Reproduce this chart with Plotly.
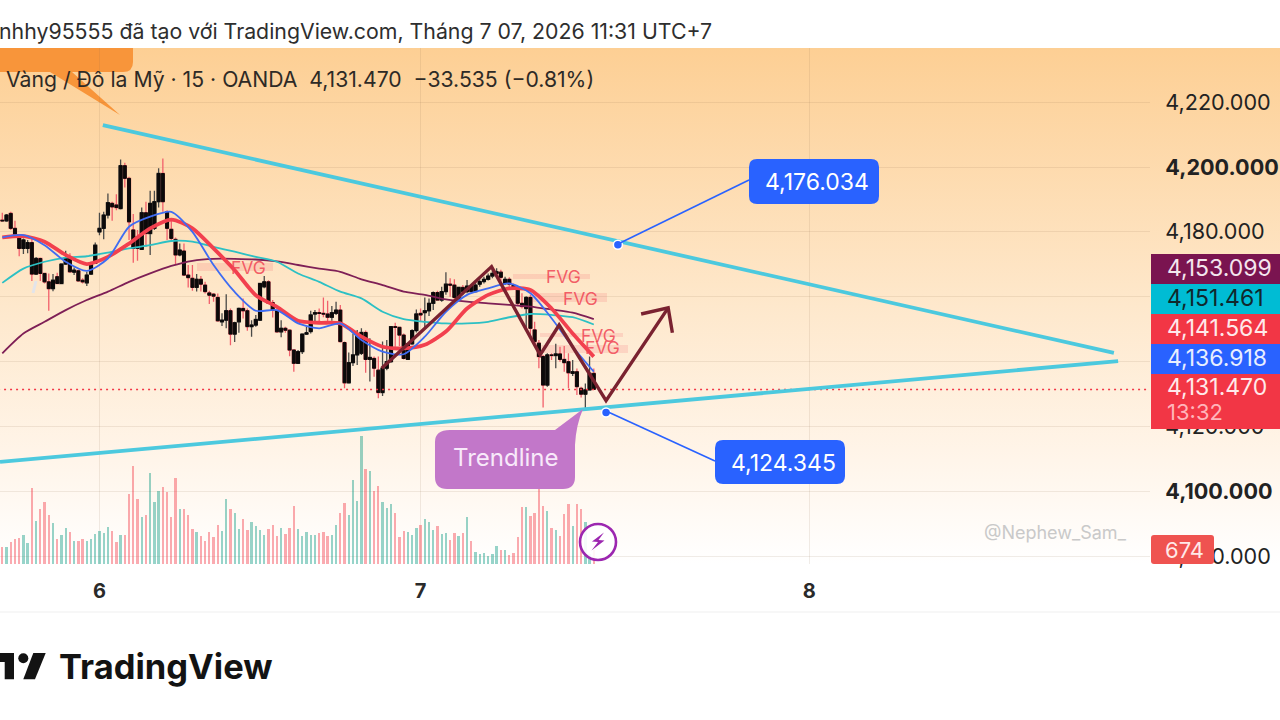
import base64
import plotly.graph_objects as go

# ---------------- DATA ----------------
bar_index = list(range(141))
ohlc_open = [4183.6,4183.4,4185.7,4181.1,4178.3,4174.9,4174.9,4176.7,4167.0,4171.8,4167.2,4164.6,4162.5,4166.2,4164.1,4170.1,4172.3,4167.6,4168.0,4165.1,
 4164.3,4167.0,4170.3,4180.0,4181.1,4185.2,4188.8,4188.3,4187.2,4200.4,4196.5,4180.6,4178.5,4174.6,4185.9,4179.5,4181.1,4189.3,4198.0,4186.2,
 4180.8,4177.7,4172.9,4174.1,4166.7,4165.7,4162.9,4165.4,4163.6,4161.2,4160.8,4159.8,4152.3,4152.8,4155.7,4148.5,4152.3,4156.4,4155.7,4150.8,
 4151.3,4152.8,4163.1,4164.6,4158.2,4155.7,4149.2,4150.3,4149.7,4143.6,4139.5,4143.1,4148.5,4149.3,4154.7,4155.1,4154.9,4154.7,4153.7,4154.9,
 4155.9,4145.9,4133.5,4139.7,4142.1,4142.6,4149.0,4140.7,4141.0,4137.4,4130.5,4138.0,4140.0,4150.8,4150.6,4148.2,4140.7,4145.5,4149.6,4154.9,
 4155.1,4155.7,4158.0,4161.3,4159.0,4161.6,4163.9,4163.6,4159.4,4162.9,4161.6,4163.3,4161.6,4163.9,4164.7,4165.4,4166.4,4167.2,4167.6,4164.1,
 4165.4,4163.6,4162.3,4158.0,4156.4,4159.8,4149.8,4145.7,4141.6,4132.8,4142.1,4141.9,4142.4,4140.7,4140.0,4136.4,4136.9,4131.8,4130.0,4131.3,4136.4]
ohlc_high = [4185.9,4185.5,4186.2,4183.4,4179.0,4178.0,4177.5,4178.7,4172.3,4172.1,4167.4,4167.2,4167.0,4167.4,4170.3,4174.2,4173.4,4169.0,4168.4,4165.7,
 4167.7,4170.8,4176.7,4185.9,4186.2,4191.8,4189.3,4191.6,4202.3,4201.3,4197.0,4185.5,4180.6,4187.5,4189.3,4192.7,4192.7,4199.6,4202.6,4186.7,
 4183.6,4178.3,4176.4,4176.4,4169.8,4169.8,4167.0,4166.4,4164.6,4161.9,4161.2,4161.0,4154.9,4160.8,4156.4,4152.3,4156.7,4159.5,4156.4,4152.8,
 4154.4,4164.1,4166.4,4165.1,4159.0,4156.1,4152.8,4150.8,4150.0,4143.8,4143.6,4148.7,4150.8,4155.7,4155.9,4156.4,4159.8,4158.8,4157.2,4158.5,
 4157.5,4146.2,4142.8,4148.7,4149.8,4150.3,4149.6,4147.2,4141.6,4141.6,4146.2,4146.7,4151.0,4152.0,4150.8,4148.7,4145.7,4150.0,4156.1,4156.4,
 4159.8,4159.5,4161.6,4161.9,4163.1,4167.6,4165.7,4165.4,4163.1,4163.6,4165.2,4163.9,4165.0,4165.4,4166.2,4167.2,4168.8,4168.8,4168.3,4166.2,
 4166.0,4164.1,4163.1,4161.1,4160.2,4160.6,4152.3,4146.7,4142.1,4142.6,4142.6,4145.5,4144.6,4144.8,4142.6,4140.5,4137.9,4132.3,4133.3,4141.6,4137.9]
ohlc_low = [4183.2,4183.1,4180.6,4178.3,4172.5,4173.2,4173.4,4164.9,4166.7,4164.9,4164.1,4155.7,4161.7,4163.9,4163.9,4169.8,4167.4,4166.7,4164.6,4164.1,
 4163.3,4166.7,4170.1,4179.0,4177.7,4184.1,4183.4,4186.7,4186.9,4193.7,4177.5,4170.5,4171.1,4174.4,4175.4,4172.9,4180.6,4187.5,4186.2,4177.5,
 4177.3,4169.8,4172.5,4166.4,4162.9,4161.9,4161.6,4161.6,4161.0,4157.8,4158.5,4152.3,4151.0,4150.3,4145.1,4146.1,4148.9,4153.3,4149.5,4147.7,
 4150.8,4152.6,4162.6,4157.8,4153.6,4148.9,4147.5,4148.9,4141.7,4136.9,4139.3,4142.4,4148.2,4148.7,4151.8,4152.0,4153.7,4152.3,4152.6,4154.4,
 4145.9,4131.8,4133.3,4138.7,4139.0,4142.1,4136.6,4133.9,4135.4,4128.7,4129.4,4137.4,4139.7,4144.6,4144.8,4140.7,4140.5,4145.2,4149.0,4152.3,
 4150.6,4154.1,4155.9,4158.8,4158.5,4160.6,4160.0,4159.0,4159.0,4160.6,4161.1,4161.1,4161.3,4163.1,4164.1,4165.0,4165.7,4166.0,4164.7,4163.6,
 4163.1,4162.1,4157.5,4156.4,4149.8,4147.7,4145.7,4138.0,4125.9,4132.3,4140.5,4138.0,4140.0,4136.9,4131.8,4135.6,4129.7,4129.0,4124.9,4131.1,4131.4]
ohlc_close = [4183.4,4185.2,4181.1,4178.3,4174.9,4177.5,4176.7,4167.0,4171.8,4167.2,4164.6,4162.5,4165.1,4164.1,4170.1,4172.1,4167.7,4168.2,4164.9,4164.6,
 4166.7,4170.5,4175.9,4181.1,4185.2,4189.0,4187.7,4187.5,4200.4,4196.5,4183.1,4174.9,4174.9,4185.9,4179.5,4188.8,4189.3,4198.0,4189.3,4181.1,
 4178.0,4172.9,4174.4,4166.7,4165.9,4162.9,4165.4,4163.9,4161.6,4160.5,4160.2,4152.6,4152.8,4155.7,4148.5,4152.0,4156.4,4155.7,4150.8,4151.3,
 4153.0,4164.1,4164.6,4158.0,4155.9,4149.2,4150.3,4149.7,4143.6,4139.5,4143.1,4148.5,4148.9,4154.4,4155.1,4154.9,4154.7,4153.7,4155.1,4155.9,
 4146.2,4133.5,4139.7,4142.1,4148.2,4149.0,4140.7,4141.3,4138.0,4130.5,4138.0,4140.0,4150.8,4150.6,4148.2,4141.0,4145.5,4149.6,4154.7,4154.4,
 4155.7,4158.0,4161.3,4159.0,4161.6,4163.9,4163.6,4159.8,4162.9,4161.6,4163.3,4161.6,4163.6,4164.7,4165.4,4166.4,4167.2,4167.7,4166.0,4165.4,
 4163.9,4162.6,4158.0,4157.0,4159.8,4150.3,4146.2,4141.6,4132.8,4142.1,4141.9,4142.4,4140.7,4139.7,4136.6,4136.9,4132.3,4130.0,4131.3,4136.4,4131.47]
volume = [832,800,1072,1216,1264,1376,1024,3632,2048,2624,2976,2368,1952,1200,1376,1744,1520,1104,1120,1184,
 1088,1184,1440,1600,1472,1792,1600,1072,1376,1376,3360,4704,3104,2240,2336,4352,2976,3520,3712,3456,
 2240,4144,2624,2624,2352,1696,1520,1344,1120,1536,1280,1888,1600,3120,2624,2464,1664,2160,1632,2000,
 1824,1632,1376,1664,1872,1344,1744,1440,1744,2784,1680,1344,1536,1408,1408,1472,1536,1344,1408,1888,
 2448,2928,2368,4032,3008,6160,4560,4480,3488,3728,2976,2688,2880,2448,1280,1600,1536,1376,1712,1856,
 2144,2016,1632,1824,1456,1472,1152,1504,1344,1504,2240,1088,592,480,544,368,480,864,672,672,
 432,528,1312,2720,2720,2288,2432,3952,2800,2528,1712,1632,1344,2400,2880,1840,2880,2640,2016,480,674]

ma_index = list(range(0, 141, 5))
ma_red = [4178.3,4178.7,4177.0,4172.9,4170.1,4172.3,4176.4,4181.1,4183.8,4181.1,4174.9,4168.2,4160.5,4156.9,4152.6,4152.0,
          4151.8,4147.7,4144.6,4144.1,4145.2,4149.3,4156.4,4160.6,4162.6,4162.1,4156.4,4148.7,4141.564]
ma_blue = [4178.3,4179.0,4175.9,4170.8,4168.0,4171.8,4181.6,4184.7,4186.2,4180.0,4169.8,4161.5,4155.7,4155.9,4151.8,4150.3,
           4151.8,4146.7,4143.1,4142.3,4147.7,4155.4,4160.6,4162.6,4164.1,4161.1,4153.4,4144.6,4136.918]
ma_teal = [4164.3,4168.7,4170.8,4172.1,4172.5,4173.6,4174.9,4175.9,4177.2,4177.0,4175.4,4173.9,4172.3,4170.8,4167.2,4164.6,
           4161.6,4159.5,4155.4,4153.1,4152.3,4151.8,4151.8,4152.3,4153.7,4154.7,4154.4,4153.7,4151.461]
ma_maroon = [4142.6,4148.7,4152.3,4155.9,4159.0,4161.6,4164.6,4167.2,4169.5,4171.1,4171.7,4171.7,4171.5,4170.9,4169.8,4168.7,
             4167.7,4165.4,4163.6,4161.6,4160.6,4159.2,4158.5,4158.0,4157.5,4157.0,4156.1,4155.1,4153.099]

upper_trend_x, upper_trend_y = [23.8, 263.1], [4212.9, 4142.7]
lower_trend_x, lower_trend_y = [-0.54, 264.1], [4109.1, 4140.2]
zigzag_x = [89.8, 115.8, 127.3, 131.8, 142.9, 157.6]
zigzag_y = [4138.0, 4169.3, 4142.1, 4151.3, 4128.0, 4156.6]
head_x = [151.2, 157.6, 158.6]
head_y = [4154.7, 4156.6, 4148.9]
target_x = [145.7, 142.9]
target_y = [4176.034, 4124.345]

price_ticks = [4080, 4100, 4120, 4140, 4160, 4180, 4200, 4220]
# 4,140 and 4,160 sit wholly behind the price tags in the reference, so only their grid lines show
price_tick_text = ["4,080.000", "<b>4,100.000</b>", "4,120.000", "", "", "4,180.000", "<b>4,200.000</b>", "4,220.000"]
time_ticks = [23, 99, 191]
time_tick_text = ["<b>6</b>", "<b>7</b>", "<b>8</b>"]

# ---------------- GEOMETRY ----------------
W, H = 1280, 720
L, R, T, B = 0, 1150, 48, 564
PLOT_W, PLOT_H = R - L, B - T
def xp(px): return (px - L) / PLOT_W
def yp(py): return (B - py) / PLOT_H
def pt(px, py): return f"{xp(px):.5f},{yp(py):.5f}"
def idx_of(px): return (px - 2.3) / 4.225
def price_of(py): return 4200 - (py - 167) / 3.245
def rrect(x0, y0, x1, y1, r):
    return (f"M{pt(x0+r,y0)} L{pt(x1-r,y0)} Q{pt(x1,y0)} {pt(x1,y0+r)} L{pt(x1,y1-r)} Q{pt(x1,y1)} {pt(x1-r,y1)} "
            f"L{pt(x0+r,y1)} Q{pt(x0,y1)} {pt(x0,y1-r)} L{pt(x0,y0+r)} Q{pt(x0,y0)} {pt(x0+r,y0)} Z")

FONT = "Inter, Roboto, sans-serif"
RED, BLUE, TEAL, MAROON, CYAN = "#F23645", "#2962FF", "#00BCD4", "#7A1450", "#4CC9DE"

fig = go.Figure()

# volume
vol_colors = ["rgba(8,153,129,0.42)" if c >= o else "rgba(242,54,69,0.42)" for o, c in zip(ohlc_open, ohlc_close)]
fig.add_trace(go.Bar(x=bar_index, y=volume, marker=dict(color=vol_colors, line_width=0), width=0.55, yaxis="y2"))

# wicks, then black bodies on top
fig.add_trace(go.Candlestick(x=bar_index, open=ohlc_open, high=ohlc_high, low=ohlc_low, close=ohlc_close, whiskerwidth=0,
    increasing=dict(line=dict(color="#4A4A48", width=1.3), fillcolor="#4A4A48"),
    decreasing=dict(line=dict(color="#F2606C", width=1.3), fillcolor="#F2606C")))
body_hi = [max(o, c) for o, c in zip(ohlc_open, ohlc_close)]
body_lo = [min(o, c) for o, c in zip(ohlc_open, ohlc_close)]
fig.add_trace(go.Candlestick(x=bar_index, open=ohlc_open, high=body_hi, low=body_lo, close=ohlc_close, whiskerwidth=0,
    increasing=dict(line=dict(color="#0C0A0A", width=1), fillcolor="#0C0A0A"),
    decreasing=dict(line=dict(color="#0C0A0A", width=1), fillcolor="#0C0A0A")))

# moving averages
for vals, col, w in [(ma_maroon, "#7E1F56", 1.8), (ma_teal, "#2CC0C4", 1.8), (ma_red, "#F2404E", 3.8), (ma_blue, "#3F6CF2", 1.8)]:
    fig.add_trace(go.Scatter(x=ma_index, y=vals, mode="lines", line=dict(color=col, width=w, shape="spline", smoothing=0.7)))

# last price
fig.add_trace(go.Scatter(x=[bar_index[-1] - 141, idx_of(R)], y=[ohlc_close[-1]] * 2, mode="lines",
                         line=dict(color=RED, width=1.5, dash="2px,4px")))

# drawings
for xs, ys in [(upper_trend_x, upper_trend_y), (lower_trend_x, lower_trend_y)]:
    fig.add_trace(go.Scatter(x=xs, y=ys, mode="lines", line=dict(color=CYAN, width=3.8)))
fig.add_trace(go.Scatter(x=zigzag_x, y=zigzag_y, mode="lines", line=dict(color="#7A2230", width=3.4)))
fig.add_trace(go.Scatter(x=head_x, y=head_y, mode="lines", line=dict(color="#7A2230", width=3.4)))

shapes, annotations = [], []

def text(px, py, s, size, color, anchor="center", **kw):
    annotations.append(dict(x=xp(px), y=yp(py), xref="paper", yref="paper", text=s, showarrow=False, xanchor=anchor,
                            yanchor="middle", font=dict(family=FONT, size=size, color=color), borderpad=0, **kw))

def path(d, fill=None, line=None, width=0, layer="above"):
    shapes.append(dict(type="path", path=d, xref="paper", yref="paper", fillcolor=fill or "rgba(0,0,0,0)",
                       line=dict(color=line or "rgba(0,0,0,0)", width=width), layer=layer))

def rect(x0, y0, x1, y1, fill, layer="above"):
    shapes.append(dict(type="rect", x0=xp(x0), x1=xp(x1), y0=yp(y1), y1=yp(y0), xref="paper", yref="paper",
                       fillcolor=fill, line_width=0, layer=layer))

# FVG bands and texts
for x0, y0, x1, y1 in [(197, 263, 273, 271), (513, 274, 590, 279), (533, 293, 607, 302), (540, 333, 623, 337), (540, 345, 628, 353)]:
    rect(x0, y0, x1, y1, "rgba(242,90,100,0.16)", layer="below")
for px, py in [(248, 267), (563, 276), (580, 298), (598, 335), (602, 348)]:
    text(px, py, "FVG", 17.5, "rgba(240,70,85,0.85)")

# connectors and blue boxes
path(f"M{pt(618, 244)} L{pt(749, 180)}", line=BLUE, width=1.6)
path(f"M{pt(606, 411)} L{pt(715, 461)}", line=BLUE, width=1.6)
path(rrect(749, 159, 879, 204, 8), fill=BLUE)
path(rrect(715, 440, 845, 484, 8), fill=BLUE)
text(817, 182, "4,176.034", 23, "#FFFFFF")
text(783, 463, "4,124.345", 23, "#FFFFFF")

fig.add_trace(go.Scatter(x=target_x, y=target_y, mode="markers",
                         marker=dict(color=BLUE, size=9, line=dict(color="#FFFFFF", width=1.5))))

# orange callout, clipped by the top band
path(f"M{pt(0,48)} L{pt(133,48)} L{pt(133,62)} Q{pt(133,72)} {pt(123,72)} L{pt(72,72)} L{pt(120,115)} L{pt(50,72)} L{pt(0,72)} Z", fill="#F8953A", layer="below")

# trendline callout
path(f"M{pt(450,430)} L{pt(555,430)} L{pt(583,409)} Q{pt(576,425)} {pt(575,445)} L{pt(575,477)} Q{pt(575,489)} {pt(563,489)} "
     f"L{pt(447,489)} Q{pt(435,489)} {pt(435,477)} L{pt(435,442)} Q{pt(435,430)} {pt(450,430)} Z", fill="#C277C9")
text(505, 457, "Trendline", 24, "#F8E9FA")

# right-hand price labels
label_rows = [(254, 284, MAROON, "4,153.099", "#F4E6EE"), (284, 314, TEAL, "4,151.461", "#10282C"),
              (314, 344, RED, "4,141.564", "#FFE9EA"), (344, 374, BLUE, "4,136.918", "#E8EEFF")]
for y0, y1, col, s, tc in label_rows:
    rect(1151, y0, 1280, y1, col)
    text(1166, (y0 + y1) / 2 - 1, s, 23, tc, anchor="left")
rect(1151, 374, 1280, 429, RED)
text(1166, 387, "4,131.470", 23, "#FFE9EA", anchor="left")
text(1166, 412, "13:32", 22, "#FFB4BA", anchor="left")
path(rrect(1151, 535, 1214, 564, 3), fill="#EF5350")
text(1184.5, 550, "674", 22, "#FFE9E8")

# cursor smear, icon
path(f"M{pt(36,281)} L{pt(33,293)}", line="#E2E4EA", width=3, layer="below")
shapes.append(dict(type="circle", xref="paper", yref="paper", x0=xp(580), x1=xp(616), y0=yp(560), y1=yp(524),
                   fillcolor="rgba(255,255,255,0.9)", line=dict(color="#9C27B0", width=2.6), layer="above"))
path(f"M{pt(604,532.5)} L{pt(592,541.5)} L{pt(598,542)} L{pt(591.5,550.5)} L{pt(604.5,540.5)} L{pt(598.5,540)} Z", fill="#9C27B0")

# watermark, headers
text(983, 532, "@Nephew_Sam_", 18, "#C9C9C9", anchor="left")
text(-2, 31, "nhhy95555 đã tạo với TradingView.com, Tháng 7 07, 2026 11:31 UTC+7", 21.3, "#2E2E2E", anchor="left")
text(5, 79, "Vàng / Đô la Mỹ · 15 · OANDA&nbsp;&nbsp;4,131.470&nbsp;&nbsp;−33.535 (−0.81%)", 21.2, "#2E2A26", anchor="left")

# footer
shapes.append(dict(type="line", xref="paper", yref="paper", x0=xp(0), x1=xp(1280), y0=yp(612), y1=yp(612),
                   line=dict(color="#EFEFEF", width=1)))
path(f"M{pt(0,653)} L{pt(14,653)} L{pt(14,679.3)} L{pt(4.7,679.3)} L{pt(4.7,662)} L{pt(0,662)} Z", fill="#131313")
path(f"M{pt(33.3,653)} L{pt(45.7,653)} L{pt(35,679.3)} L{pt(23.3,679.3)} Z", fill="#131313")
shapes.append(dict(type="circle", xref="paper", yref="paper", x0=xp(18.3), x1=xp(28.3), y0=yp(663.3), y1=yp(653.3),
                   fillcolor="#131313", line_width=0))
text(58, 666, "<b>TradingView</b>", 34.5, "#131313", anchor="left")

# background gradient
svg = ('<svg xmlns="http://www.w3.org/2000/svg" width="1280" height="516" preserveAspectRatio="none">'
       '<defs><linearGradient id="g" x1="0" y1="0" x2="0" y2="1"><stop offset="0" stop-color="#FDCF94"/>'
       '<stop offset="0.5" stop-color="#FEE8CC"/><stop offset="0.8" stop-color="#FFF5EA"/><stop offset="1" stop-color="#FFFFFF"/>'
       '</linearGradient></defs><rect width="1280" height="516" fill="url(#g)"/></svg>')
bg = "data:image/svg+xml;base64," + base64.b64encode(svg.encode()).decode()

fig.update_layout(
    width=W, height=H, margin=dict(l=L, r=W - R, t=T, b=H - B, pad=0),
    paper_bgcolor="#FFFFFF", plot_bgcolor="rgba(0,0,0,0)", showlegend=False, bargap=0, boxgap=0, dragmode=False,
    font=dict(family=FONT, color="#2A2A2A"),
    images=[dict(source=bg, xref="paper", yref="paper", x=0, y=1, sizex=W / PLOT_W, sizey=1, sizing="stretch",
                 xanchor="left", yanchor="top", layer="below")],
    shapes=shapes, annotations=annotations,
    xaxis=dict(range=[idx_of(L), idx_of(R)], tickmode="array", tickvals=time_ticks, ticktext=time_tick_text,
               showgrid=True, gridcolor="rgba(140,110,80,0.13)", gridwidth=1, zeroline=False, showline=False,
               ticks="outside", ticklen=9, tickcolor="rgba(0,0,0,0)", tickfont=dict(size=20, color="#2A2A2A", family=FONT),
               rangeslider=dict(visible=False)),
    yaxis=dict(range=[price_of(B), price_of(T)], side="right", tickmode="array", tickvals=price_ticks, ticktext=price_tick_text,
               showgrid=True, gridcolor="rgba(140,110,80,0.13)", gridwidth=1, zeroline=False, showline=False,
               ticks="outside", ticklen=10, tickcolor="rgba(0,0,0,0)", tickfont=dict(size=21.6, color="#222222", family=FONT)),
    yaxis2=dict(range=[0, 24768], overlaying="y", side="left", visible=False),
)
fig.write_html("out.html", config=dict(displayModeBar=False, staticPlot=True),
               post_script="document.body.style.margin='0';document.body.style.overflow='hidden';")
